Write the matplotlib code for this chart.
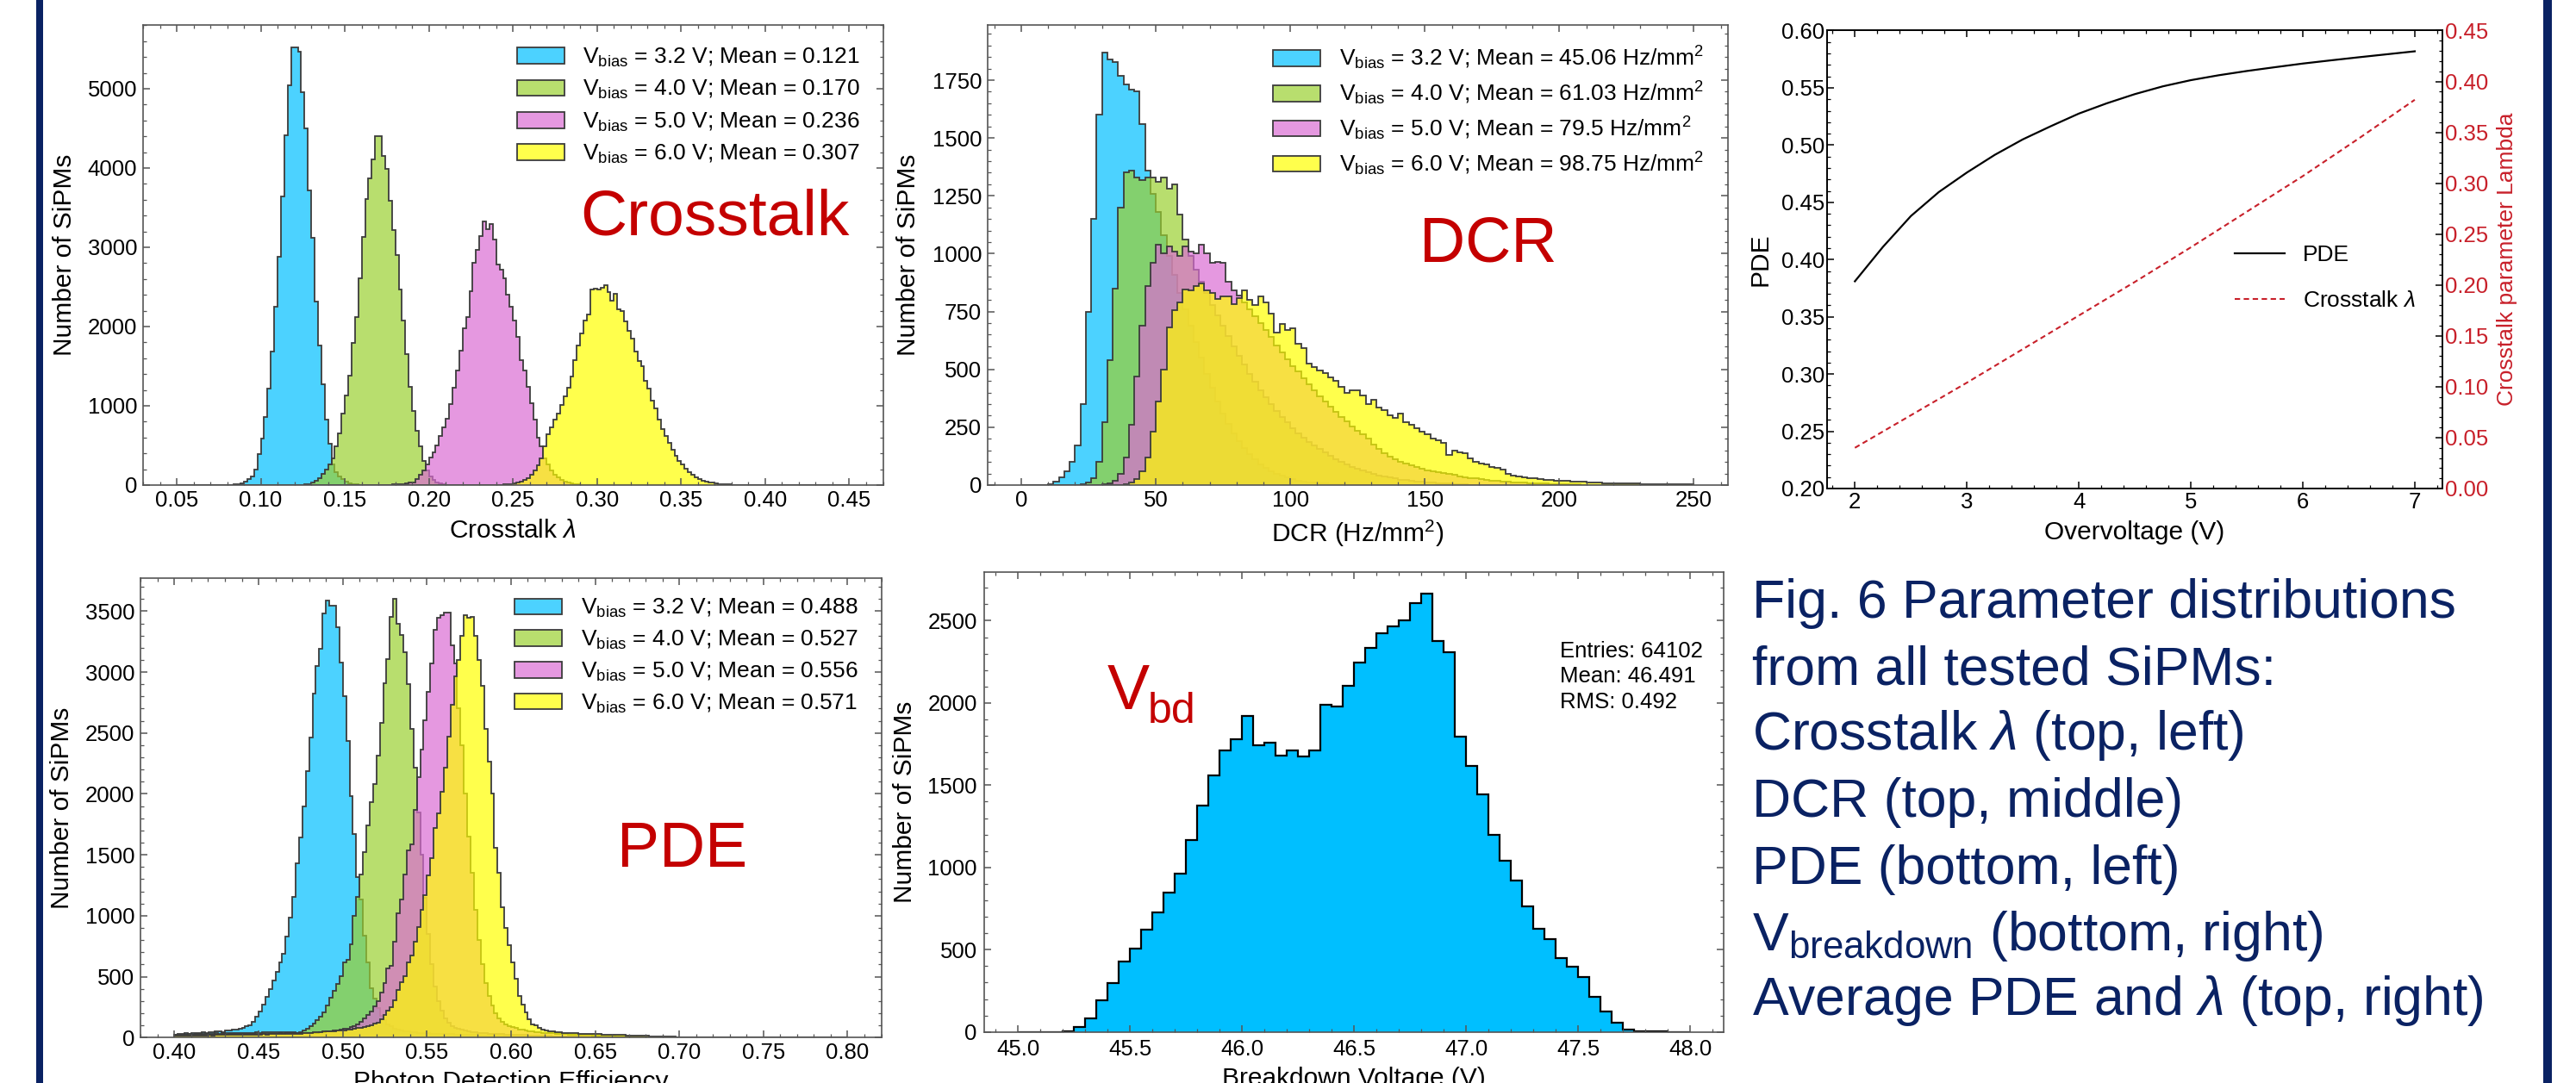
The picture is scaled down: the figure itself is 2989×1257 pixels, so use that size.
import numpy as np
import matplotlib
matplotlib.use('Agg')
import matplotlib.pyplot as plt
from matplotlib.patches import Patch, Rectangle
from matplotlib.lines import Line2D
from matplotlib.ticker import MultipleLocator, FormatStrFormatter
from matplotlib.colors import to_rgba

plt.rcParams['font.family'] = ['Liberation Sans', 'DejaVu Sans']
plt.rcParams['mathtext.fontset'] = 'custom'
plt.rcParams['mathtext.rm'] = 'Liberation Sans'
plt.rcParams['mathtext.it'] = 'Liberation Sans:italic'
plt.rcParams['mathtext.bf'] = 'Liberation Sans:bold'
plt.rcParams['mathtext.sf'] = 'Liberation Sans'

W, H, DPI = 2989, 1257, 100

# ---------------- data ----------------
bias_labels = ['3.2', '4.0', '5.0', '6.0']
xt_means = ['0.121', '0.170', '0.236', '0.307']
dcr_means = ['45.06', '61.03', '79.5', '98.75']
pde_means = ['0.488', '0.527', '0.556', '0.571']

# Crosstalk lambda histograms (bin width 0.002, range 0.05-0.45)
xt_range = (0.05, 0.45)
xt_width = 0.002
xt_starts = [0.084, 0.126, 0.178, 0.242]
xt_blue = [8, 15, 26, 45, 75, 112, 198, 393, 587, 861,
           1216, 1684, 2253, 2881, 3637, 4416, 5040, 5519, 5519, 5471,
           4958, 4502, 3712, 3117, 2320, 1759, 1272, 823, 524, 262,
           168, 112, 75, 45, 26, 15, 8, 4]
xt_green = [8, 15, 30, 55, 90, 140, 200, 265,
            337, 494, 655, 898, 1130, 1385, 1789, 2122, 2612, 3125,
            3611, 3873, 4105, 4397, 4397, 4154, 3985, 3592, 3218, 2900,
            2462, 2077, 1654, 1235, 935, 685, 486, 299, 187, 112,
            67, 37, 20, 10, 5]
xt_purple = [6, 8, 10, 15, 22, 30, 37, 75, 131, 187,
             262, 344, 412, 505, 617, 730, 842, 1018, 1227, 1441,
             1691, 1983, 2125, 2443, 2807, 2967, 3136, 3330, 3230, 3290,
             3100, 2788, 2713, 2612, 2400, 2245, 2077, 1871, 1572, 1441,
             1235, 1029, 823, 599, 486, 337, 262, 187, 131, 94,
             67, 45, 30, 19, 10, 6]
xt_yellow = [5, 8, 11, 15, 20, 28, 40, 60, 90, 130,
             180, 250, 340, 486, 636, 730, 823, 898, 1010, 1123,
             1227, 1366, 1572, 1759, 1908, 2077, 2152, 2470, 2480, 2470,
             2490, 2520, 2440, 2330, 2410, 2220, 2195, 2070, 1945, 1850,
             1680, 1570, 1495, 1310, 1215, 1065, 970, 823, 711, 617,
             531, 449, 374, 299, 262, 206, 168, 131, 94, 75,
             56, 45, 37, 30, 19, 15, 11, 8, 6, 5,
             4, 3, 3, 2, 2]

# DCR histograms (bin width 2 Hz/mm2, range 0-250)
dcr_range = (0.0, 250.0)
dcr_width = 2.0
dcr_starts = [10, 22, 30, 38]
dcr_blue = [4, 15, 35, 60, 100, 170, 350, 750, 1150, 1600,
            1870, 1840, 1830, 1770, 1730, 1710, 1700, 1560, 1360, 1260,
            1180, 1080, 990, 910, 830, 760, 690, 620, 550, 480,
            420, 360, 310, 265, 225, 190, 160, 135, 110, 90,
            75, 60, 50, 40, 32, 25, 20, 15, 12, 10,
            8, 6, 5, 4, 3]
dcr_green = [5, 10, 30, 100, 270, 540, 850, 1200, 1350, 1360,
             1330, 1320, 1330, 1330, 1310, 1330, 1280, 1300, 1170, 1060,
             990, 930, 880, 830, 780, 735, 690, 645, 600, 560,
             520, 480, 445, 410, 380, 350, 320, 295, 270, 245,
             225, 205, 185, 170, 155, 140, 125, 112, 100, 90,
             80, 70, 62, 55, 48, 42, 37, 32, 28, 24,
             21, 18, 16, 14, 12, 10, 8, 7, 6, 5, 4, 3]
dcr_purple = [3, 8, 20, 50, 120, 260, 470, 690, 860, 960,
              1040, 1000, 1030, 1010, 990, 1030, 1010, 1000, 1040, 1000,
              960, 965, 960, 880, 840, 820, 790, 760, 730, 700,
              670, 640, 605, 575, 545, 515, 490, 460, 435, 410,
              385, 360, 338, 315, 295, 275, 255, 235, 218, 200,
              175, 155, 138, 124, 112, 102, 93, 85, 78, 71,
              65, 60, 56, 52, 47, 43, 39, 35, 31, 28,
              25, 22, 20, 18, 16, 14, 12, 11, 10, 9,
              8, 7, 6, 5, 4, 4, 3, 3, 2]
dcr_yellow = [5, 10, 25, 60, 120, 230, 360, 500, 680, 755,
              790, 845, 840, 860, 870, 840, 830, 805, 815, 815,
              782, 808, 840, 800, 778, 814, 790, 740, 660, 695,
              669, 676, 612, 592, 526, 509, 497, 484, 464, 450,
              425, 400, 410, 410, 387, 349, 368, 336, 323, 300,
              291, 310, 272, 260, 246, 230, 220, 201, 195, 182,
              130, 150, 140, 137, 115, 100, 92, 88, 80, 73,
              67, 50, 40, 36, 35, 30, 28, 25, 23, 22,
              20, 18, 17, 16, 15, 14, 12, 11, 10, 9,
              9, 8, 7, 7, 6, 6, 5, 5, 5, 4,
              4, 4, 4, 3, 3, 3]

# PDE histograms (bin width 0.002, range 0.40-0.80)
pde_range = (0.40, 0.80)
pde_width = 0.002
pde_starts = [0.40, 0.40, 0.40, 0.40]
pde_blue = [25, 30, 28, 35, 32, 38, 36, 40, 42, 38,
            45, 42, 48, 50, 46, 55, 58, 62, 68, 75,
            82, 90, 98, 130, 172, 216, 270, 332, 398, 467,
            541, 615, 688, 828, 988, 1155, 1430, 1640, 1900, 2188,
            2463, 2827, 3048, 3190, 3485, 3590, 3544, 3544, 3367, 3077,
            2802, 2433, 1979, 1671, 1315, 1130, 835, 615, 405, 320,
            245, 180, 140, 110, 90, 75, 65, 58, 52, 48,
            45, 42, 40, 38, 36, 35, 33, 32, 31, 30,
            29, 28, 27, 26, 25, 24, 23, 22, 21, 20,
            19, 18, 17, 16, 15, 14, 14, 13, 12, 12,
            11, 10, 10, 9, 9, 8, 8, 7, 7, 6,
            6, 5, 5, 4, 4, 3, 3, 2]
pde_green = [20, 22, 25, 24, 28, 26, 30, 28, 32, 30,
             33, 31, 35, 33, 36, 34, 38, 36, 38, 37,
             40, 38, 40, 39, 41, 40, 42, 41, 43, 42,
             44, 43, 45, 44, 46, 45, 40, 45, 55, 70,
             90, 115, 140, 170, 210, 260, 324, 381, 442, 504,
             615, 640, 762, 996, 1155, 1340, 1525, 1745, 1930, 2078,
             2316, 2582, 2906, 3110, 3450, 3600, 3400, 3307, 3160, 2900,
             2532, 2213, 1850, 1500, 1150, 850, 600, 420, 300, 220,
             160, 120, 95, 80, 70, 62, 55, 50, 46, 42,
             40, 37, 35, 33, 31, 30, 28, 27, 26, 25,
             24, 23, 22, 21, 20, 19, 18, 17, 16, 15,
             14, 13, 12, 12, 11, 10, 10, 9, 9, 8,
             8, 7, 7, 6, 6, 5, 5, 4, 4, 3, 3, 2]
pde_purple = [15, 18, 16, 20, 18, 22, 20, 22, 24, 22,
              25, 24, 26, 25, 27, 26, 28, 27, 29, 28,
              30, 29, 30, 31, 30, 32, 31, 32, 33, 32,
              33, 34, 33, 34, 35, 34, 35, 35, 36, 35,
              35, 38, 40, 42, 45, 48, 50, 55, 60, 65,
              70, 75, 85, 95, 110, 130, 155, 185, 215, 255,
              295, 369, 450, 566, 590, 787, 1020, 1131, 1340, 1537,
              1586, 1869, 2139, 2361, 2607, 2840, 3074, 3344, 3443, 3467,
              3492, 3492, 3221, 3074, 2700, 2400, 2000, 1650, 1350, 1050,
              800, 600, 450, 340, 260, 200, 160, 130, 110, 95,
              85, 76, 68, 62, 57, 52, 48, 45, 42, 40,
              38, 36, 34, 32, 30, 28, 27, 26, 25, 24,
              23, 22, 21, 20, 19, 18, 17, 16, 15, 14,
              13, 12, 11, 10, 9, 8, 7, 6, 5, 4, 3, 2]
pde_yellow = [15, 16, 15, 17, 16, 18, 17, 18, 19, 18,
              20, 19, 21, 20, 22, 21, 22, 23, 22, 24,
              23, 24, 25, 24, 26, 25, 27, 26, 28, 27,
              29, 28, 30, 29, 31, 30, 32, 33, 34, 36,
              40, 42, 44, 46, 48, 50, 52, 54, 56, 58,
              60, 64, 68, 72, 76, 80, 86, 92, 100, 112,
              125, 147, 184, 221, 246, 307, 393, 455, 504, 615,
              676, 787, 910, 1045, 1168, 1328, 1475, 1721, 1844, 2016,
              2213, 2471, 2729, 2963, 3098, 3295, 3467, 3443, 3452, 3295,
              3098, 2889, 2533, 2262, 2004, 1561, 1352, 1070, 900, 760,
              615, 480, 344, 270, 209, 148, 110, 98, 80, 66,
              58, 52, 48, 45, 42, 40, 38, 36, 35, 34,
              33, 32, 31, 30, 29, 28, 27, 26, 25, 24,
              23, 22, 21, 20, 19, 18, 17, 16, 15, 14,
              13, 12, 11, 10, 9, 8, 7, 6, 5, 4, 3]

# Breakdown voltage histogram (bin width 0.05 V, 45.0-48.0)
vbd_range = (45.0, 48.0)
vbd_counts = [0, 0, 0, 0, 5, 30, 83, 190, 296, 430,
              505, 620, 728, 845, 963, 1169, 1376, 1559, 1712, 1780,
              1919, 1742, 1757, 1682, 1712, 1674, 1712, 1991, 1980, 2102,
              2244, 2336, 2425, 2466, 2504, 2607, 2662, 2374, 2308, 1797,
              1616, 1446, 1197, 1043, 918, 764, 626, 564, 447, 394,
              334, 213, 126, 55, 13, 5, 3, 2, 1, 1]
vbd_stats = ['Entries: 64102', 'Mean: 46.491', 'RMS: 0.492']

# Average PDE and crosstalk vs overvoltage
ov_pde = [2.0, 2.25, 2.5, 2.75, 3.0, 3.25, 3.5, 3.75, 4.0, 4.25, 4.5,
          4.75, 5.0, 5.25, 5.5, 5.75, 6.0, 6.25, 6.5, 6.75, 7.0]
pde_avg = [0.381, 0.411, 0.438, 0.459, 0.476, 0.4915, 0.505, 0.5165, 0.5275,
           0.5365, 0.5445, 0.5513, 0.5567, 0.561, 0.5647, 0.568, 0.5712,
           0.574, 0.5767, 0.5793, 0.5819]
ov_xt = [2.0, 2.5, 3.0, 3.5, 4.0, 4.5, 5.0, 5.5, 6.0, 6.5, 7.0]
xt_avg = [0.040, 0.072, 0.104, 0.137, 0.170, 0.203, 0.237, 0.272, 0.307, 0.344, 0.382]

caption_lines = ['Fig. 6 Parameter distributions',
                 'from all tested SiPMs:',
                 r'Crosstalk $\lambda$ (top, left)',
                 'DCR (top, middle)',
                 'PDE (bottom, left)',
                 r'V$_{\mathrm{breakdown}}$ (bottom, right)',
                 r'Average PDE and $\lambda$ (top, right)']

# ---------------- style ----------------
PURE = ['#00bfff', '#9bd030', '#db6dd3', '#ffff00']
ALPHA = 0.7
EDGE = '#3c3c3c'
SPINE = '#555555'
RED = '#c40000'
AXRED = '#c8202a'
NAVY = '#0a2263'
TICK_FS = 18.5
LABEL_FS = 21.5
LEG_FS = 19


def px_ax(x0, x1, ytop, ybot):
    return [x0 / W, 1 - ybot / H, (x1 - x0) / W, (ybot - ytop) / H]


def full_array(rng, width, start, vals):
    n = int(round((rng[1] - rng[0]) / width))
    arr = np.zeros(n)
    i0 = int(round((start - rng[0]) / width))
    arr[i0:i0 + len(vals)] = vals
    edges = np.linspace(rng[0], rng[1], n + 1)
    return edges, arr


def style_axes(ax, xmaj, xmin, ymaj, ymin, xfmt, pad_x=4, pad_y=5):
    ax.xaxis.set_major_locator(MultipleLocator(xmaj))
    ax.xaxis.set_minor_locator(MultipleLocator(xmin))
    ax.yaxis.set_major_locator(MultipleLocator(ymaj))
    ax.yaxis.set_minor_locator(MultipleLocator(ymin))
    ax.xaxis.set_major_formatter(FormatStrFormatter(xfmt))
    ax.tick_params(which='both', direction='in', top=True, right=True, color=SPINE)
    ax.tick_params(which='major', length=6, width=1.1, labelsize=TICK_FS)
    ax.tick_params(which='minor', length=3.2, width=0.9)
    ax.tick_params(axis='x', which='major', pad=pad_x)
    ax.tick_params(axis='y', which='major', pad=pad_y)
    for s in ax.spines.values():
        s.set_color(SPINE)
        s.set_linewidth(1.2)


def hist_panel(ax, rng, width, starts, series, means, unit, ymax, xfmt, xmaj, xmin, ymaj, ymin):
    handles = []
    for i, vals in enumerate(series):
        edges, arr = full_array(rng, width, starts[i], vals)
        ax.stairs(arr, edges, fill=True, facecolor=to_rgba(PURE[i], ALPHA),
                  edgecolor=EDGE, linewidth=1.3)
        handles.append(Patch(facecolor=to_rgba(PURE[i], ALPHA), edgecolor=EDGE, linewidth=1.3,
                             label=r'V$_{\mathrm{bias}}$ = ' + bias_labels[i] + ' V; Mean = ' + means[i] + unit))
    pad = 0.05 * (rng[1] - rng[0])
    ax.set_xlim(rng[0] - pad, rng[1] + pad)
    ax.set_ylim(0, ymax)
    style_axes(ax, xmaj, xmin, ymaj, ymin, xfmt)
    return handles


fig = plt.figure(figsize=(W / DPI, H / DPI), dpi=DPI)

# ---------- Crosstalk ----------
ax1 = fig.add_axes(px_ax(166, 1024.5, 29.4, 563))
h = hist_panel(ax1, xt_range, xt_width, xt_starts, [xt_blue, xt_green, xt_purple, xt_yellow],
               xt_means, '', 5800, '%.2f', 0.05, 0.01, 1000, 200)
ax1.legend(handles=h, loc='upper left', bbox_to_anchor=(0.5055, 0.954), frameon=False,
           fontsize=LEG_FS, borderpad=0, borderaxespad=0, handlelength=2.1, handleheight=0.7,
           handletextpad=0.8, labelspacing=0.42)
ax1.set_xlabel(r'Crosstalk $\lambda$', fontsize=LABEL_FS)
ax1.xaxis.set_label_coords(0.5, -0.073)
ax1.set_ylabel('Number of SiPMs', fontsize=LABEL_FS, va='center')
ax1.yaxis.set_label_coords(-0.106, 0.5)
ax1.text(0.5906, 0.5453, 'Crosstalk', transform=ax1.transAxes, fontsize=54, color=RED,
         ha='left', va='baseline')

# ---------- DCR ----------
ax2 = fig.add_axes(px_ax(1146, 2004.5, 29.4, 563))
h = hist_panel(ax2, dcr_range, dcr_width, dcr_starts, [dcr_blue, dcr_green, dcr_purple, dcr_yellow],
               dcr_means, r' Hz/mm$^{2}$', 1987, '%d', 50, 10, 250, 50)
ax2.legend(handles=h, loc='upper left', bbox_to_anchor=(0.3856, 0.958), frameon=False,
           fontsize=LEG_FS, borderpad=0, borderaxespad=0, handlelength=2.1, handleheight=0.7,
           handletextpad=0.8, labelspacing=0.36)
ax2.set_xlabel(r'DCR (Hz/mm$^{2}$)', fontsize=LABEL_FS)
ax2.xaxis.set_label_coords(0.5, -0.073)
ax2.set_ylabel('Number of SiPMs', fontsize=LABEL_FS, va='center')
ax2.yaxis.set_label_coords(-0.107, 0.5)
ax2.text(0.5836, 0.4854, 'DCR', transform=ax2.transAxes, fontsize=53, color=RED,
         ha='left', va='baseline')

# ---------- PDE hist ----------
ax4 = fig.add_axes(px_ax(163.4, 1022.5, 670.8, 1204.2))
h = hist_panel(ax4, pde_range, pde_width, pde_starts, [pde_blue, pde_green, pde_purple, pde_yellow],
               pde_means, '', 3773, '%.2f', 0.05, 0.01, 500, 100)
ax4.legend(handles=h, loc='upper left', bbox_to_anchor=(0.5048, 0.958), frameon=False,
           fontsize=LEG_FS, borderpad=0, borderaxespad=0, handlelength=2.1, handleheight=0.7,
           handletextpad=0.8, labelspacing=0.40)
ax4.set_xlabel('Photon Detection Efficiency', fontsize=LABEL_FS)
ax4.xaxis.set_label_coords(0.5, -0.070)
ax4.set_ylabel('Number of SiPMs', fontsize=LABEL_FS, va='center')
ax4.yaxis.set_label_coords(-0.106, 0.5)
ax4.text(0.6433, 0.3716, 'PDE', transform=ax4.transAxes, fontsize=53, color=RED,
         ha='left', va='baseline')

# ---------- Vbd ----------
ax5 = fig.add_axes(px_ax(1142, 2000.4, 663.9, 1197.7))
vedges = np.linspace(vbd_range[0], vbd_range[1], len(vbd_counts) + 1)
ax5.stairs(vbd_counts, vedges, fill=True, facecolor='#00bfff', edgecolor='black', linewidth=1.6)
ax5.set_xlim(44.85, 48.15)
ax5.set_ylim(0, 2796)
style_axes(ax5, 0.5, 0.1, 500, 100, '%.1f', pad_x=6, pad_y=6)
ax5.set_xlabel('Breakdown Voltage (V)', fontsize=LABEL_FS)
ax5.xaxis.set_label_coords(0.5, -0.0746)
ax5.set_ylabel('Number of SiPMs', fontsize=LABEL_FS, va='center')
ax5.yaxis.set_label_coords(-0.107, 0.5)
for i, s in enumerate(vbd_stats):
    ax5.text(0.778, 0.8144 - 0.0553 * i, s, transform=ax5.transAxes, fontsize=18.5,
             ha='left', va='baseline')
ax5.text(0.1661, 0.702, 'V', transform=ax5.transAxes, fontsize=53, color=RED, ha='left', va='baseline')
ax5.text(0.2213, 0.6712, 'bd', transform=ax5.transAxes, fontsize=36, color=RED, ha='left', va='baseline')

# ---------- PDE & lambda vs overvoltage ----------
ax3 = fig.add_axes(px_ax(2119.8, 2834.4, 35.5, 567))
ax3b = ax3.twinx()
l1, = ax3.plot(ov_pde, pde_avg, color='black', lw=1.6, label='PDE')
l2, = ax3b.plot(ov_xt, xt_avg, color=AXRED, lw=1.5, ls=(0, (3, 2)), label=r'Crosstalk $\lambda$')
ax3.set_xlim(1.75, 7.25)
ax3.set_ylim(0.20, 0.60)
ax3b.set_ylim(0.0, 0.45)
ax3.xaxis.set_major_locator(MultipleLocator(1))
ax3.xaxis.set_minor_locator(MultipleLocator(0.2))
ax3.yaxis.set_major_locator(MultipleLocator(0.05))
ax3.yaxis.set_minor_locator(MultipleLocator(0.01))
ax3.yaxis.set_major_formatter(FormatStrFormatter('%.2f'))
ax3b.yaxis.set_major_locator(MultipleLocator(0.05))
ax3b.yaxis.set_minor_locator(MultipleLocator(0.01))
ax3b.yaxis.set_major_formatter(FormatStrFormatter('%.2f'))
ax3.tick_params(which='both', direction='in', top=True, right=False, color='black')
ax3.tick_params(which='major', length=6, width=1.1, labelsize=TICK_FS)
ax3.tick_params(which='minor', length=3, width=0.9)
ax3.tick_params(axis='x', which='major', pad=3)
ax3.tick_params(axis='y', which='major', pad=2)
ax3b.tick_params(which='both', direction='in', color='black', labelcolor=AXRED)
ax3b.tick_params(which='major', length=6, width=1.1, labelsize=TICK_FS, pad=2)
ax3b.tick_params(which='minor', length=3, width=0.9)
for a in (ax3, ax3b):
    for s in a.spines.values():
        s.set_color('black')
        s.set_linewidth(1.2)
ax3.set_xlabel('Overvoltage (V)', fontsize=LABEL_FS)
ax3.xaxis.set_label_coords(0.5, -0.0696)
ax3.set_ylabel('PDE', fontsize=LABEL_FS, va='center')
ax3.yaxis.set_label_coords(-0.108, 0.5)
ax3b.set_ylabel('Crosstalk parameter Lambda', fontsize=19, color=AXRED, va='center')
ax3b.yaxis.set_label_coords(1.104, 0.5)
ax3.legend(handles=[l1, l2], loc='upper left', bbox_to_anchor=(0.662, 0.532), frameon=False,
           fontsize=LEG_FS, borderpad=0, borderaxespad=0, handlelength=2.2,
           handletextpad=0.8, labelspacing=1.1)

# ---------- caption ----------
baselines = [717.5, 794.6, 869.7, 948, 1026, 1103, 1178]
for yb, line in zip(baselines, caption_lines):
    fig.text(2033 / W, 1 - yb / H, line, fontsize=45, color=NAVY, ha='left', va='baseline')

# ---------- border bars ----------
fig.add_artist(Rectangle((41.5 / W, 0), 8.5 / W, 1, transform=fig.transFigure,
                         facecolor=NAVY, edgecolor='none'))
fig.add_artist(Rectangle((2951 / W, 0), 10 / W, 1, transform=fig.transFigure,
                         facecolor=NAVY, edgecolor='none'))

fig.savefig('out.png', dpi=DPI)
